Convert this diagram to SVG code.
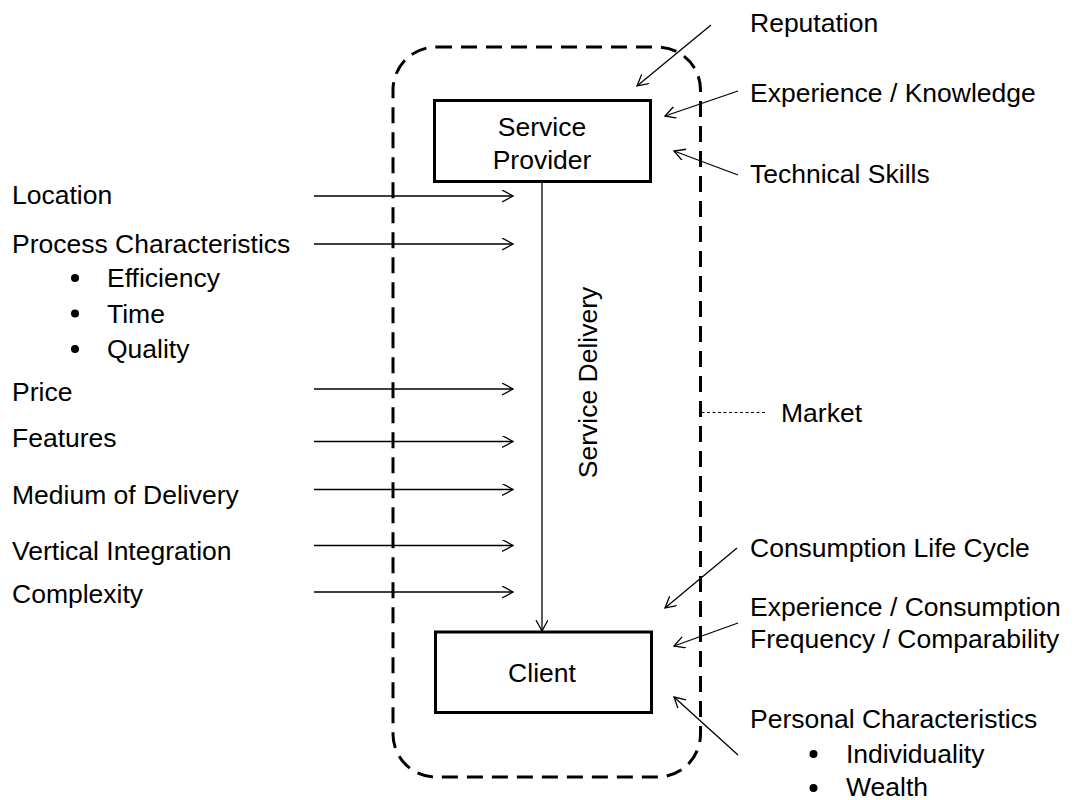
<svg xmlns="http://www.w3.org/2000/svg" width="1075" height="800" viewBox="0 0 1075 800">
<style>
text{font-family:"Liberation Sans",Arial,sans-serif;font-size:26.5px;fill:#000}
.box{fill:#fff;stroke:#000;stroke-width:3}
.mid{text-anchor:middle}
.arr{stroke:#000;stroke-width:1.3;fill:none;marker-end:url(#open)}
.market{fill:none;stroke:#000;stroke-width:3;stroke-dasharray:16 9}
</style>
<defs>
<marker id="open" markerUnits="userSpaceOnUse" markerWidth="14" markerHeight="14" refX="11" refY="6" orient="auto">
<path d="M0,0 L11,6 L0,12" fill="none" stroke="#000" stroke-width="1.3"/>
</marker>
</defs>
<rect width="1075" height="800" fill="#fff"/>
<g id="market">
<rect class="market" x="393" y="47" width="307.5" height="730" rx="43" ry="43"/>
</g>
<g id="connectors">
<line class="arr" x1="542" y1="182" x2="542" y2="631"/>
<line class="arr" x1="314" y1="196" x2="513" y2="196"/>
<line class="arr" x1="314" y1="244" x2="513" y2="244"/>
<line class="arr" x1="314" y1="389" x2="513" y2="389"/>
<line class="arr" x1="314" y1="441.5" x2="513" y2="441.5"/>
<line class="arr" x1="314" y1="489.5" x2="513" y2="489.5"/>
<line class="arr" x1="314" y1="545.5" x2="513" y2="545.5"/>
<line class="arr" x1="314" y1="592" x2="513" y2="592"/>
<line class="arr" x1="711" y1="25" x2="637" y2="86"/>
<line class="arr" x1="738" y1="91" x2="665" y2="116"/>
<line class="arr" x1="738" y1="175" x2="674" y2="151"/>
<line class="arr" x1="737" y1="548" x2="665" y2="608"/>
<line class="arr" x1="738" y1="623" x2="674" y2="646"/>
<line class="arr" x1="738" y1="755" x2="674" y2="697"/>
<line x1="701.5" y1="412.5" x2="767" y2="412.5" stroke="#000" stroke-width="1" stroke-dasharray="3 2.5"/>
</g>
<g id="service-provider">
<rect class="box" x="434.5" y="100.5" width="216" height="81"/>
<text class="mid" x="542" y="136">Service</text>
<text class="mid" x="542" y="169">Provider</text>
</g>
<g id="client">
<rect class="box" x="435.5" y="632" width="216" height="80.5"/>
<text class="mid" x="542" y="682">Client</text>
</g>
<g id="service-delivery-label">
<text class="mid" transform="translate(597,382.5) rotate(-90)">Service Delivery</text>
</g>
<g id="market-label">
<text x="781" y="422">Market</text>
</g>
<g id="left-factors">
<text x="12" y="204">Location</text>
<text x="12" y="253">Process Characteristics</text>
<circle cx="75" cy="278" r="4"/>
<text x="107" y="287">Efficiency</text>
<circle cx="75" cy="313.5" r="4"/>
<text x="107" y="322.5">Time</text>
<circle cx="75" cy="349" r="4"/>
<text x="107" y="358">Quality</text>
<text x="12" y="401">Price</text>
<text x="12" y="447">Features</text>
<text x="12" y="504">Medium of Delivery</text>
<text x="12" y="560">Vertical Integration</text>
<text x="12" y="603">Complexity</text>
</g>
<g id="provider-factors">
<text x="750" y="32">Reputation</text>
<text x="750" y="102">Experience / Knowledge</text>
<text x="750" y="183">Technical Skills</text>
</g>
<g id="client-factors">
<text x="750" y="557">Consumption Life Cycle</text>
<text x="750" y="616">Experience / Consumption</text>
<text x="750" y="648">Frequency / Comparability</text>
<text x="750" y="728">Personal Characteristics</text>
<circle cx="813.5" cy="754" r="4"/>
<text x="846" y="763">Individuality</text>
<circle cx="813.5" cy="788" r="4"/>
<text x="846" y="796">Wealth</text>
</g>
</svg>
